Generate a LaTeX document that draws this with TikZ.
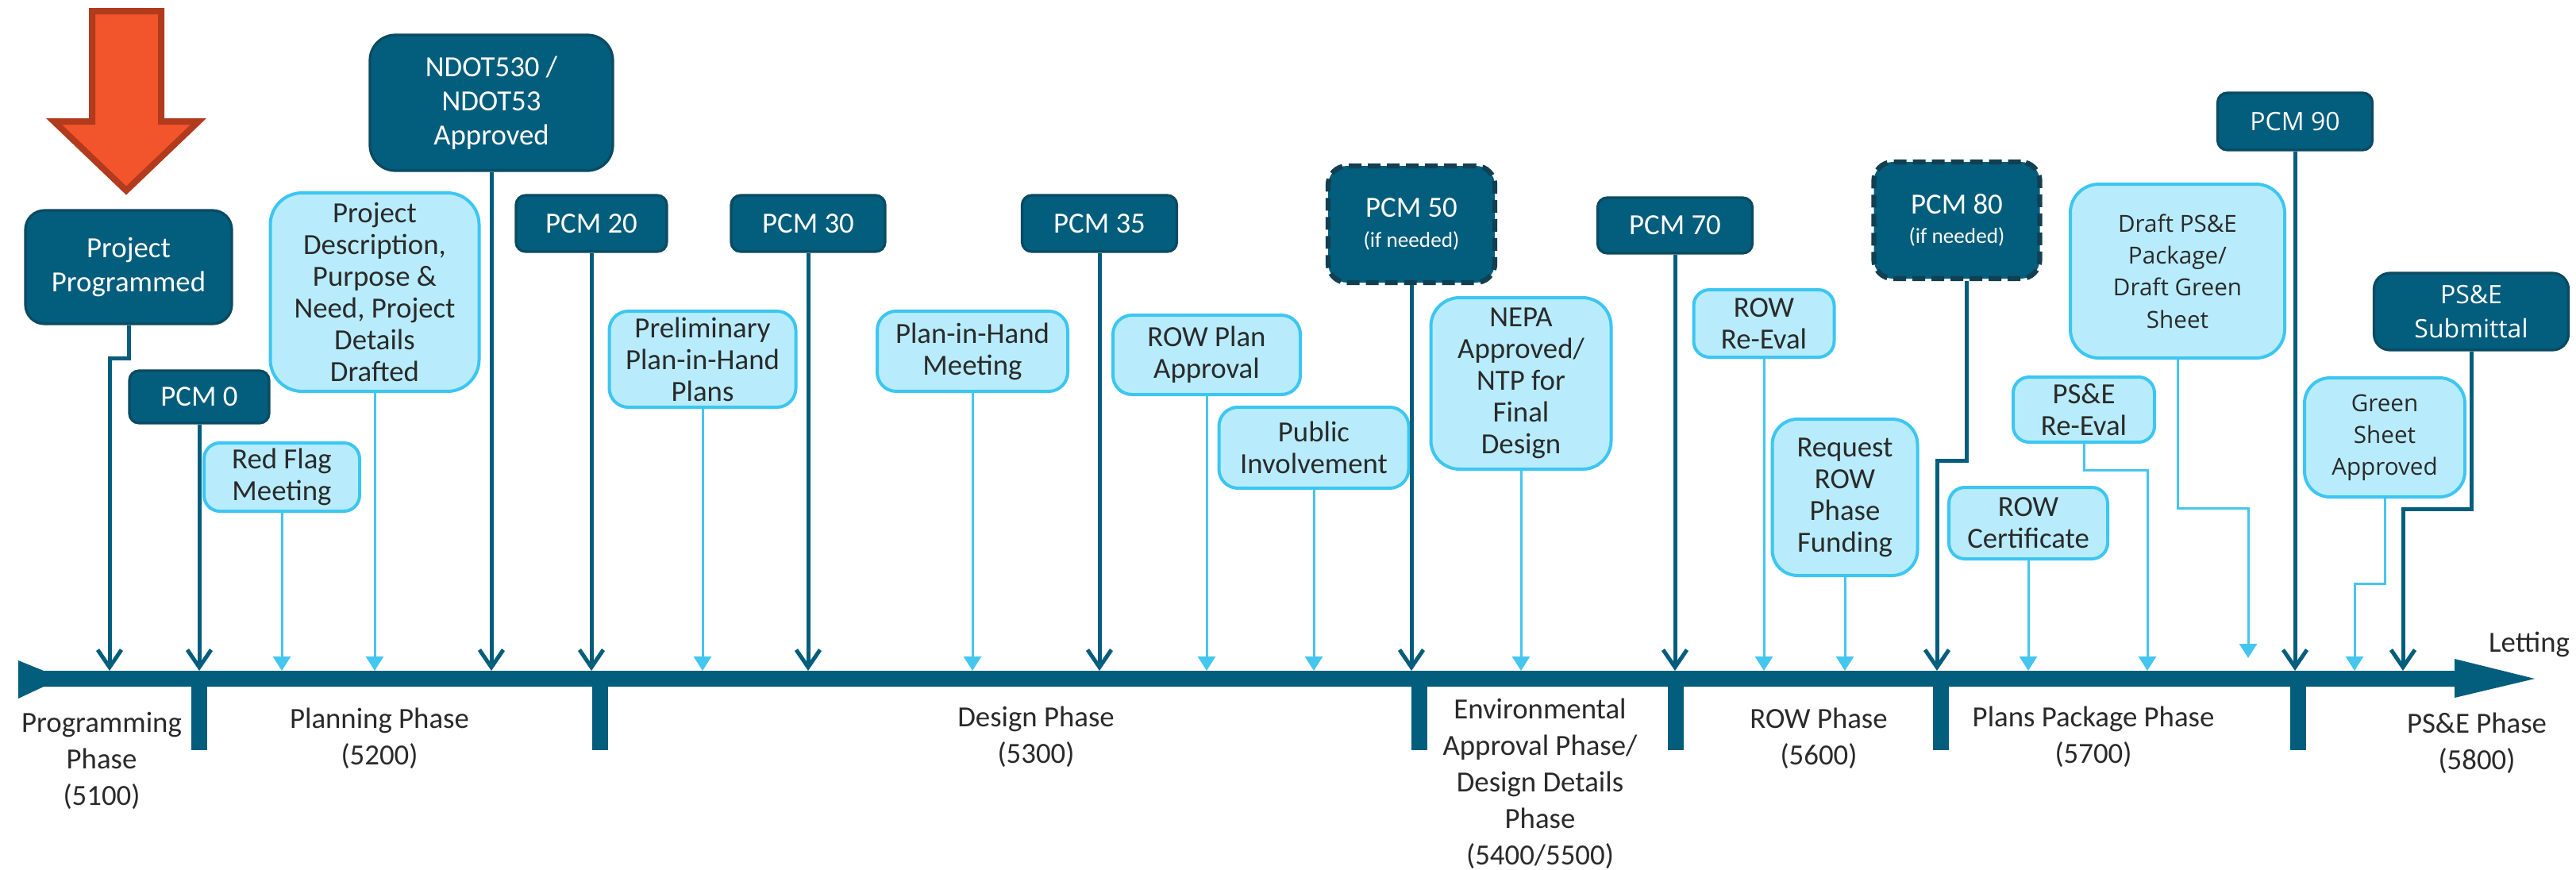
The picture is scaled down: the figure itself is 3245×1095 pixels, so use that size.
\documentclass[tikz,border=0pt]{standalone}
\usepackage{fontspec}
\setmainfont{Carlito}
\newfontfamily\segoe{Open Sans}
\usetikzlibrary{arrows.meta,calc}
\definecolor{dteal}{HTML}{035D7C}
\definecolor{dedge}{HTML}{0A4A62}
\definecolor{lfill}{HTML}{B8ECFC}
\definecolor{ledge}{HTML}{3CC6F2}
\definecolor{lline}{HTML}{45C6EF}
\definecolor{txt}{HTML}{2A2A2A}
\definecolor{ofill}{HTML}{F2552C}
\definecolor{oedge}{HTML}{B23A1D}
\definecolor{dashc}{HTML}{123F52}
\begin{document}
\begin{tikzpicture}[x=0.25pt,y=-0.25pt,
 darkbox/.style={draw=dedge, line width=0.8pt, fill=dteal, text=white, rounded corners=3pt, align=center, inner sep=1pt, font=\fontsize{9.2}{10.8}\selectfont},
 dashbox/.style={darkbox, draw=dashc, line width=1.6pt, dash pattern=on 4pt off 2pt},
 lightbox/.style={draw=ledge, line width=1pt, fill=lfill, text=txt, rounded corners=6pt, align=center, inner sep=1pt, font=\fontsize{9.2}{10}\selectfont},
 darkcon/.style={draw=dteal, line width=1.25pt, -{Straight Barb[length=5.5pt,width=7.5pt]}},
 lightcon/.style={draw=lline, line width=0.75pt, -{Triangle[length=4.5pt,width=5.5pt]}},
 phase/.style={text=txt, align=center, anchor=north, inner sep=0pt, font=\fontsize{9.2}{11.5}\selectfont},
 tick/.style={fill=dteal}
]
\useasboundingbox (0,0) rectangle (3245,1095);
\fill[white] (0,0) rectangle (3245,1095);

% timeline bar
\fill[dteal] (23,832) -- (55,845) -- (3092,845) -- (3092,830) -- (3193,855) -- (3092,879) -- (3092,865) -- (55,865) -- (23,880) -- cycle;
\foreach \t in {251,756,1788,2111,2445,2895}
  \fill[tick] (\t-10,860) rectangle (\t+10,945);

% orange arrow
\draw[fill=ofill, draw=oedge, line width=2pt, line join=miter] (116,14) -- (203,14) -- (203,153) -- (250,153) -- (159,240) -- (68,153) -- (116,153) -- cycle;

% bar attachment points
\coordinate (a_pp) at (138,845);
\coordinate (a_pcm0) at (251,845);
\coordinate (a_rf) at (355,845);
\coordinate (a_pd) at (472,845);
\coordinate (a_ndot) at (619,845);
\coordinate (a_pcm20) at (745,845);
\coordinate (a_prel) at (885,845);
\coordinate (a_pcm30) at (1018,845);
\coordinate (a_pih) at (1225,845);
\coordinate (a_pcm35) at (1385,845);
\coordinate (a_rowp) at (1520,845);
\coordinate (a_pub) at (1655,845);
\coordinate (a_pcm50) at (1778,845);
\coordinate (a_nepa) at (1916,845);
\coordinate (a_pcm70) at (2110,845);
\coordinate (a_rowre) at (2222,845);
\coordinate (a_req) at (2324,845);
\coordinate (a_pcm80) at (2440,845);
\coordinate (a_rowc) at (2555,845);
\coordinate (a_psre) at (2705,845);
\coordinate (a_draft) at (2832,829);
\coordinate (a_pcm90) at (2891,845);
\coordinate (a_gsa) at (2966,845);
\coordinate (a_pse) at (3027,845);

% dark boxes
\node[darkbox, rounded corners=6pt, minimum width=65pt, minimum height=35.75pt] (pp) at (162,336.5) {Project\\Programmed};
\node[darkbox, minimum width=44pt, minimum height=16.5pt] (pcm0) at (251,500) {PCM 0};
\node[darkbox, rounded corners=8pt, minimum width=76.5pt, minimum height=42.75pt] (ndot) at (619,129.5) {NDOT530 /\\NDOT53\\Approved};
\node[darkbox, minimum width=47.5pt, minimum height=17.75pt] (pcm20) at (745,281.5) {PCM 20};
\node[darkbox, minimum width=48.5pt, minimum height=17.75pt] (pcm30) at (1018,281.5) {PCM 30};
\node[darkbox, minimum width=48.75pt, minimum height=17.75pt] (pcm35) at (1385,281.5) {PCM 35};
\node[dashbox, rounded corners=6pt, minimum width=52.5pt, minimum height=36.75pt] (pcm50) at (1778,282.5) {PCM 50\\[-1.5pt]{\fontsize{6.8}{8}\selectfont (if needed)}};
\node[darkbox, minimum width=48.75pt, minimum height=17.5pt] (pcm70) at (2110,284) {PCM 70};
\node[dashbox, rounded corners=6pt, minimum width=52.25pt, minimum height=36.75pt] (pcm80) at (2465,277.5) {PCM 80\\[-1.5pt]{\fontsize{6.8}{8}\selectfont (if needed)}};
\node[darkbox, minimum width=48.75pt, minimum height=18pt, font=\segoe\fontsize{8}{10}\selectfont] (pcm90) at (2891,153) {PCM 90};
\node[darkbox, rounded corners=5pt, minimum width=61.25pt, minimum height=24.25pt, font=\segoe\fontsize{8}{10.6}\selectfont] (pse) at (3113,392.5) {PS\&E\\Submittal};

% light boxes
\node[lightbox, rounded corners=10pt, minimum width=65.75pt, minimum height=62.5pt] (pd) at (472,368) {Project\\Description,\\Purpose \&\\Need, Project\\Details\\Drafted};
\node[lightbox, rounded corners=5pt, minimum width=49pt, minimum height=21.5pt] (rf) at (355,601) {Red Flag\\Meeting};
\node[lightbox, minimum width=58.75pt, minimum height=30.25pt] (prel) at (885,452.5) {Preliminary\\Plan-in-Hand\\Plans};
\node[lightbox, minimum width=60pt, minimum height=25.25pt] (pih) at (1225,442.5) {Plan-in-Hand\\Meeting};
\node[lightbox, minimum width=59pt, minimum height=25pt] (rowp) at (1520,447) {ROW Plan\\Approval};
\node[lightbox, minimum width=59.75pt, minimum height=25.5pt] (pub) at (1655,564) {Public\\Involvement};
\node[lightbox, rounded corners=9pt, minimum width=56.75pt, minimum height=54pt] (nepa) at (1916,483) {NEPA\\Approved/\\NTP for\\Final\\Design};
\node[lightbox, rounded corners=5pt, minimum width=44.25pt, minimum height=21.25pt] (rowre) at (2222,407.5) {ROW\\Re-Eval};
\node[lightbox, rounded corners=8pt, minimum width=45.75pt, minimum height=49.25pt] (req) at (2324,626.5) {Request\\ROW\\Phase\\Funding};
\node[lightbox, rounded corners=9pt, minimum width=67.5pt, minimum height=54.75pt, font=\segoe\fontsize{7.4}{10.1}\selectfont] (draft) at (2743,341.5) {Draft PS\&E\\Package/\\Draft Green\\Sheet};
\node[lightbox, rounded corners=5pt, minimum width=44.5pt, minimum height=20.5pt] (psre) at (2625,516) {PS\&E\\Re-Eval};
\node[lightbox, rounded corners=5pt, minimum width=50pt, minimum height=22.5pt] (rowc) at (2555,659) {ROW\\Certificate};
\node[lightbox, rounded corners=8pt, minimum width=50.5pt, minimum height=37.5pt, font=\segoe\fontsize{7.4}{10}\selectfont] (gsa) at (3004,551) {Green\\Sheet\\Approved};

% connectors
\draw[darkcon] (pp.south) -- ++(0,42) -| (a_pp);
\draw[darkcon] (pcm0) -- (a_pcm0);
\draw[lightcon] (rf) -- (a_rf);
\draw[lightcon] (pd) -- (a_pd);
\draw[darkcon] (ndot) -- (a_ndot);
\draw[darkcon] (pcm20) -- (a_pcm20);
\draw[lightcon] (prel) -- (a_prel);
\draw[darkcon] (pcm30) -- (a_pcm30);
\draw[lightcon] (pih) -- (a_pih);
\draw[darkcon] (pcm35) -- (a_pcm35);
\draw[lightcon] (rowp) -- (a_rowp);
\draw[lightcon] (pub) -- (a_pub);
\draw[darkcon] (pcm50) -- (a_pcm50);
\draw[lightcon] (nepa) -- (a_nepa);
\draw[darkcon] (pcm70) -- (a_pcm70);
\draw[lightcon] (rowre) -- (a_rowre);
\draw[lightcon] (req) -- (a_req);
\draw[darkcon] ($(pcm80.south)+(12,0)$) -- ++(0,226) -| (a_pcm80);
\draw[lightcon] (rowc) -- (a_rowc);
\draw[lightcon] (psre.south) -- ++(0,33) -| (a_psre);
\draw[lightcon] (draft.south) -- ++(0,187) -| (a_draft);
\draw[darkcon] (pcm90) -- (a_pcm90);
\draw[lightcon] (gsa.south) -- ++(0,107) -| (a_gsa);
\draw[darkcon] (pse.south) -- ++(0,199) -| (a_pse);

% phase labels
\node[phase] (ph1) at (128,896) {Programming\\Phase\\(5100)};
\node[phase] (ph2) at (478,891) {Planning Phase\\(5200)};
\node[phase] (ph3) at (1305,889) {Design Phase\\(5300)};
\node[phase] (ph4) at (1940,879) {Environmental\\Approval Phase/\\Design Details\\Phase\\(5400/5500)};
\node[phase] (ph5) at (2291,891) {ROW Phase\\(5600)};
\node[phase] (ph6) at (2637,889) {Plans Package Phase\\(5700)};
\node[phase] (ph7) at (3120,897) {PS\&E Phase\\(5800)};
\node[text=txt, inner sep=0pt, font=\fontsize{9.2}{11}\selectfont] (let) at (3186,812) {Letting};
\end{tikzpicture}
\end{document}
